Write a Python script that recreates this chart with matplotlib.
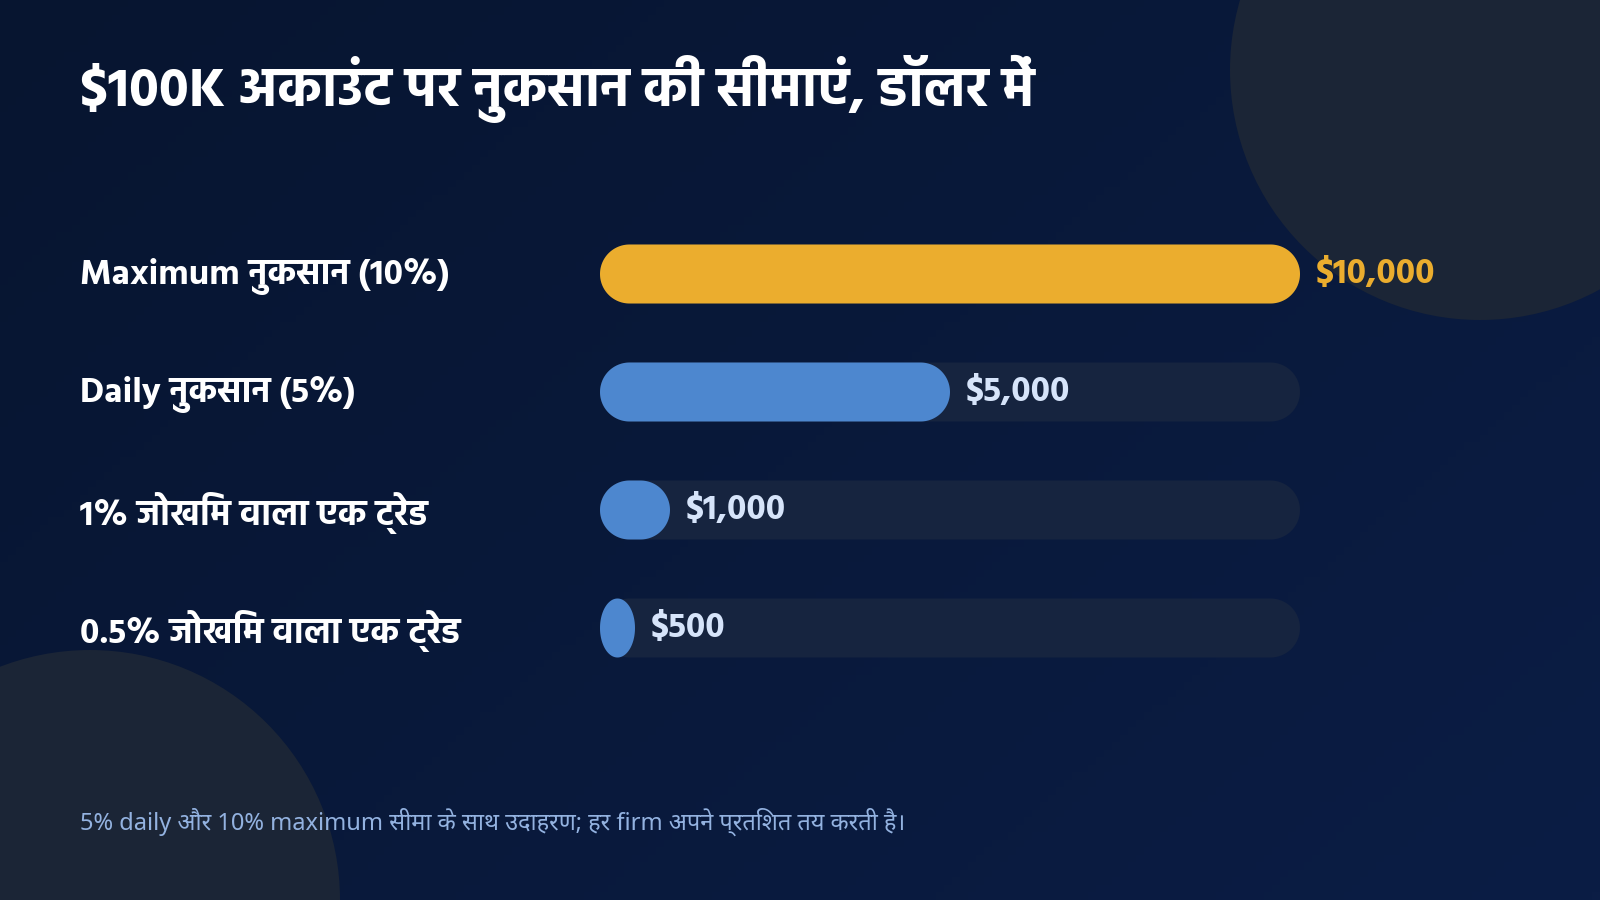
import numpy as np
import matplotlib
matplotlib.use("Agg")
import matplotlib.pyplot as plt
from matplotlib.patches import Circle, Polygon
from matplotlib import transforms

plt.rcParams['font.family'] = ['Noto Sans', 'Noto Sans Devanagari', 'DejaVu Sans']
BOLD = ['Hind', 'DejaVu Sans']

# data
categories = ["Maximum नुकसान (10%)", "Daily नुकसान (5%)",
              "1% जोखिम वाला एक ट्रेड", "0.5% जोखिम वाला एक ट्रेड"]
values = [10000, 5000, 1000, 500]
value_labels = ["$10,000", "$5,000", "$1,000", "$500"]
max_value = 10000
title = "$100K अकाउंट पर नुकसान की सीमाएं, डॉलर में"
footnote = "5% daily और 10% maximum सीमा के साथ उदाहरण; हर firm अपने प्रतिशत तय करती है।"

bg_a = "#071530"
bg_b = "#0b1d45"
blob = "#1b2536"
track = "#16243f"
gold = "#ebad2e"
blue = "#4d87cf"

W, H = 1600, 900
fig = plt.figure(figsize=(16, 9), dpi=100)

# background with diagonal gradient and two soft circles
bg = fig.add_axes([0, 0, 1, 1])
bg.set_xlim(0, W)
bg.set_ylim(H, 0)
bg.axis("off")
gx, gy = np.meshgrid(np.linspace(0, 1, 200), np.linspace(0, 1, 120))
g = (gx * 0.6 + gy * 0.4)
c1 = np.array(matplotlib.colors.to_rgb(bg_a))
c2 = np.array(matplotlib.colors.to_rgb(bg_b))
img = c1[None, None, :] * (1 - g[..., None]) + c2[None, None, :] * g[..., None]
bg.imshow(img, extent=[0, W, H, 0], aspect="auto", zorder=0)
bg.add_patch(Circle((1480, 70), 250, color=blob, zorder=1, lw=0))
bg.add_patch(Circle((90, 900), 250, color=blob, zorder=1, lw=0))

# bars axes: spans 600..1300 px horizontally
left_px, width_px = 600, 700
top_px, row_px = 215, 118
n = len(values)
ax = fig.add_axes([left_px / W, 1 - (top_px + n * row_px) / H,
                   width_px / W, n * row_px / H])
ax.set_xlim(0, max_value)
ax.set_ylim(n - 0.5, -0.5)
ax.axis("off")
ax.patch.set_alpha(0)

bar_h = 0.5
px_per_x = width_px / max_value
px_per_y = row_px


def pill(x0, x1, yc, color, z):
    # rounded bar; ends turn elliptical when the bar is shorter than its height
    w_px = (x1 - x0) * px_per_x
    h_px = bar_h * px_per_y
    r_px = min(h_px / 2, w_px / 2)
    rx = r_px / px_per_x
    ry = bar_h / 2
    t = np.linspace(-np.pi / 2, np.pi / 2, 60)
    right = np.column_stack([x1 - rx + rx * np.cos(t), yc + ry * np.sin(t)])
    left = np.column_stack([x0 + rx - rx * np.cos(t), yc - ry * np.sin(t)])
    pts = np.vstack([right, left])
    ax.add_patch(Polygon(pts, closed=True, color=color, lw=0, zorder=z))


for i, v in enumerate(values):
    pill(0, max_value, i, track, 1)
    pill(0, v, i, gold if i == 0 else blue, 2)
    ax.annotate(value_labels[i], (v, i), xytext=(16, 0), textcoords="offset pixels",
                ha="left", va="center", fontsize=25.5, fontweight="bold", family=BOLD,
                color=gold if i == 0 else "#d6e4fa", zorder=3)

lab_tr = transforms.blended_transform_factory(fig.transFigure, ax.transData)
for i, c in enumerate(categories):
    ax.annotate(c, (80 / W, i), xycoords=lab_tr, xytext=(0, -3),
                textcoords="offset pixels", ha="left", va="center",
                fontsize=25.5, fontweight="bold", family=BOLD, color="white")

fig.text(80 / W, 1 - 106 / H, title, ha="left", va="baseline",
         fontsize=39.5, fontweight="bold", family=BOLD, color="white")
fig.text(80 / W, 1 - 830 / H, footnote, ha="left", va="baseline",
         fontsize=17, color="#93b2e0")

fig.savefig("out.png", dpi=100, facecolor=bg_a)
